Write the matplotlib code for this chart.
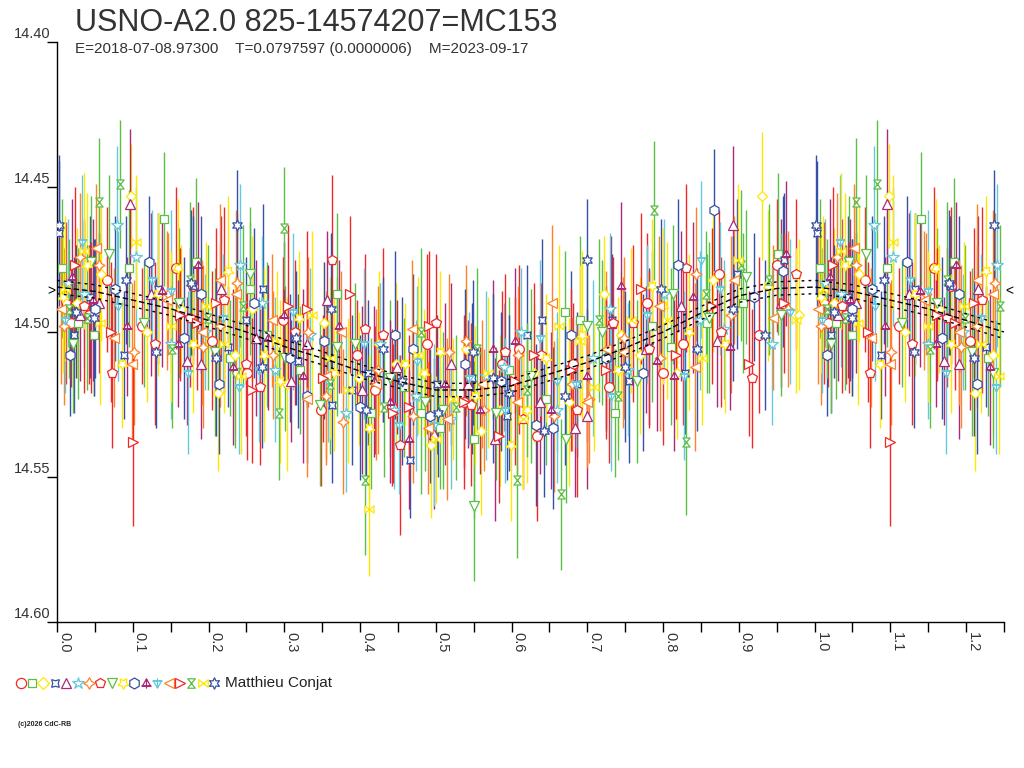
import matplotlib
matplotlib.use("Agg")
import matplotlib.pyplot as plt
import numpy as np
from matplotlib.path import Path

TITLE = "USNO-A2.0 825-14574207=MC153"
SUBTITLE = "E=2018-07-08.97300    T=0.0797597 (0.0000006)    M=2023-09-17"
OBSERVER = "Matthieu Conjat"
FOOTER = "(c)2026 CdC-RB"

# magnitudes are stored as offsets from BASE_MAG in millimag, phases in 1/1000
BASE_MAG = 14.50
MEAN_MAG = 14.486
Y_TICKS = [14.40, 14.45, 14.50, 14.55, 14.60]
X_MAJOR = [0.0, 0.1, 0.2, 0.3, 0.4, 0.5, 0.6, 0.7, 0.8, 0.9, 1.0, 1.1, 1.2]

PHASE = [
    [18, 66, 112, 157, 205, 251, 298, 349, 396, 442, 489, 537, 588, 633, 681, 728, 779, 826, 874, 927, 42, 180, 420, 610, 800, 950],
    [7, 49, 95, 141, 184, 229, 277, 321, 369, 414, 458, 506, 551, 597, 645, 690, 737, 785, 858, 952, 28, 255, 480, 670, 810, 905],
    [26, 98, 119, 164, 212, 258, 303, 352, 399, 447, 494, 540, 585, 629, 676, 722, 770, 818, 866, 931, 58, 235, 425, 560, 745, 980],
    [3, 44, 88, 133, 179, 226, 272, 318, 363, 410, 466, 502, 548, 594, 640, 686, 733, 781, 829, 898, 22, 250, 390, 620, 755, 960],
    [31, 96, 124, 171, 216, 263, 309, 356, 402, 449, 497, 543, 578, 637, 684, 731, 777, 823, 871, 892, 55, 190, 330, 520, 700, 955],
    [14, 79, 104, 150, 196, 241, 288, 334, 381, 427, 474, 520, 566, 612, 660, 707, 754, 801, 849, 944, 35, 270, 445, 590, 730, 880],
    [9, 55, 101, 147, 193, 238, 285, 331, 377, 424, 470, 517, 563, 609, 656, 702, 748, 796, 844, 890, 30, 215, 355, 540, 680, 965],
    [36, 73, 129, 175, 221, 268, 314, 363, 407, 453, 500, 546, 592, 639, 687, 734, 781, 830, 877, 917, 12, 250, 430, 615, 760, 975],
    [21, 68, 115, 161, 208, 255, 301, 347, 394, 440, 486, 551, 579, 626, 672, 719, 766, 813, 861, 909, 45, 235, 370, 510, 700, 955],
    [40, 86, 133, 180, 226, 273, 319, 366, 412, 459, 505, 552, 599, 646, 693, 740, 786, 834, 882, 938, 8, 160, 295, 485, 620, 800],
    [17, 76, 122, 168, 214, 260, 307, 353, 400, 446, 493, 539, 586, 632, 679, 725, 773, 820, 867, 958, 50, 190, 330, 470, 655, 920],
    [47, 93, 139, 186, 232, 279, 325, 372, 418, 465, 512, 558, 605, 652, 699, 745, 792, 840, 888, 962, 20, 160, 300, 440, 575, 815],
    [33, 80, 126, 173, 219, 266, 312, 358, 405, 451, 498, 544, 591, 638, 685, 731, 779, 827, 875, 968, 10, 150, 240, 475, 660, 850],
    [5, 52, 99, 145, 191, 236, 284, 330, 375, 421, 468, 515, 561, 607, 654, 700, 747, 794, 842, 893, 75, 215, 355, 490, 725, 945],
    [24, 71, 100, 162, 210, 257, 305, 351, 387, 444, 491, 537, 583, 630, 678, 724, 771, 817, 864, 913, 45, 185, 330, 465, 605, 960],
    [16, 55, 83, 152, 199, 245, 293, 300, 406, 431, 480, 527, 607, 621, 665, 716, 788, 830, 856, 903, 40, 175, 360, 555, 740, 940],
    [11, 57, 104, 150, 197, 243, 291, 337, 384, 412, 476, 523, 569, 615, 662, 709, 757, 805, 852, 899, 35, 220, 360, 500, 690, 975],
    [2, 49, 91, 131, 177, 237, 270, 316, 362, 408, 455, 503, 549, 596, 643, 700, 750, 797, 845, 892, 25, 210, 430, 575, 670, 935],
]

DMAG = [
    [-3, -18, -2, -22, 3, 14, -4, 27, 8, 26, 4, 24, 11, 36, 11, 19, -10, 4, -20, 1, -6, -16, 20, 6, 14, -23],
    [-22, 1, -22, -39, -24, 9, 1, 13, -13, 28, 19, 33, 37, 13, 23, -4, 28, -2, -3, -27, -3, -15, 28, -7, 5, -10],
    [-10, -47, 0, -8, 21, -8, 18, -3, 16, 11, 39, 6, 27, 14, 24, -13, 8, 14, -18, -47, -20, 8, 4, 34, 1, -6],
    [-34, -12, 8, -15, -16, 5, -15, 10, 25, 14, 44, 18, 16, 29, -4, 18, -4, 5, 14, -20, 1, -4, 20, 1, 17, -25],
    [-6, -44, -13, 10, -15, 2, 17, -11, 20, 12, 35, 18, 37, 24, 33, -3, 6, -9, 3, -37, -10, 11, 4, 11, 29, -10],
    [-17, -37, -26, 4, 0, -23, 13, 1, 28, 4, 22, 30, 15, 0, 27, 9, 13, -13, -4, 4, -13, -10, 27, 12, -8, -1],
    [-2, -23, 7, -13, 5, -17, 8, 0, 31, 13, 29, 7, 27, 8, 29, 23, 2, 9, -20, -6, -26, -2, 22, 3, 18, -8],
    [-9, 14, 4, -5, -11, 19, 0, -25, -1, 39, -3, 25, 7, 8, 27, -3, 6, -22, 0, 16, -10, 11, 1, 30, -3, -20],
    [4, -27, -3, -10, 7, -20, 9, 25, 4, 16, 24, 60, 28, 15, 37, 0, 17, -13, -5, -19, -24, 14, 5, 27, -2, -6],
    [-23, 11, -13, 4, -21, 8, -5, 14, 33, 11, 7, 22, 39, 9, 1, 13, -16, 0, 4, -16, -12, -22, 17, 14, 27, -9],
    [8, -15, -24, 2, 18, -10, 9, 3, 26, 1, 29, 11, 17, 32, 1, 9, 14, -23, -42, -21, -8, -13, 22, 6, 33, -12],
    [-11, -2, -14, -23, 12, 2, 15, -2, 17, 37, 18, 27, 3, 27, 15, -16, 10, -12, 5, -27, -19, 4, -6, 24, 6, 15],
    [-31, -9, -18, 14, -5, 13, -7, 17, 4, 32, 32, 16, 27, 2, 18, 22, -6, 15, -15, -7, -4, -14, 19, 10, 17, -25],
    [-8, -29, 11, -11, 0, -13, -4, 23, 0, 18, -1, 30, 18, 24, -10, 24, 7, -9, 12, -18, 2, -18, 15, 33, 6, -5],
    [-23, 0, 38, -6, -10, 20, -9, 16, -13, 28, -2, 24, 36, 8, 13, 13, -15, 8, -9, 11, -5, -3, -8, 26, 17, -10],
    [-8, -45, -51, 6, -5, -9, 28, -36, 51, 26, 0, 26, 51, 20, 56, -4, -42, 38, -13, -23, -5, -18, 18, 6, 22, -18],
    [-15, -3, -31, -2, -9, 15, 3, -6, 20, 61, 8, 23, 14, 30, -2, 19, -4, -4, 9, -25, -28, 4, 9, 37, 3, -4],
    [-37, -5, -18, 7, -17, -37, 12, 2, -8, 27, 17, 28, 7, 21, 34, -25, 12, -15, 6, -8, -7, 9, 6, 16, 22, 1],
]

ERR = [
    [22, 25, 20, 28, 24, 30, 22, 26, 19, 27, 31, 23, 25, 29, 21, 26, 24, 28, 22, 27, 24, 27, 22, 29, 25, 23],
    [24, 21, 27, 23, 29, 20, 25, 22, 28, 26, 24, 21, 27, 25, 23, 29, 22, 26, 24, 28, 26, 23, 28, 21, 27, 24],
    [26, 18, 24, 22, 27, 25, 30, 21, 23, 28, 25, 22, 26, 24, 29, 20, 27, 23, 25, 22, 23, 27, 25, 29, 22, 26],
    [25, 28, 22, 26, 24, 21, 29, 23, 27, 25, 20, 24, 26, 22, 28, 25, 23, 27, 21, 26, 27, 22, 26, 24, 28, 23],
    [23, 26, 28, 22, 25, 27, 21, 24, 29, 23, 26, 22, 28, 25, 24, 30, 22, 26, 23, 27, 24, 26, 22, 28, 25, 29],
    [22, 27, 24, 26, 20, 28, 25, 23, 27, 21, 26, 24, 29, 22, 25, 27, 23, 26, 24, 28, 25, 23, 27, 22, 26, 24],
    [27, 23, 25, 21, 28, 24, 22, 26, 25, 29, 23, 27, 21, 24, 26, 22, 28, 25, 23, 27, 22, 28, 24, 26, 23, 27],
    [30, 26, 28, 24, 32, 27, 25, 29, 26, 31, 24, 28, 27, 25, 30, 23, 27, 29, 26, 24, 28, 25, 30, 24, 27, 26],
    [24, 27, 22, 26, 29, 23, 25, 28, 21, 27, 24, 26, 23, 30, 22, 25, 28, 24, 26, 23, 23, 26, 24, 27, 25, 28],
    [25, 22, 28, 24, 26, 30, 23, 27, 25, 21, 28, 24, 26, 22, 29, 25, 23, 27, 24, 26, 26, 24, 28, 22, 25, 27],
    [21, 25, 23, 28, 24, 26, 22, 27, 25, 29, 23, 26, 24, 28, 22, 25, 27, 23, 21, 26, 24, 27, 23, 26, 28, 22],
    [28, 24, 26, 22, 27, 25, 30, 23, 26, 24, 28, 22, 25, 27, 23, 29, 24, 26, 22, 25, 27, 22, 25, 28, 24, 26],
    [23, 26, 24, 28, 22, 25, 27, 21, 26, 24, 28, 23, 25, 27, 22, 26, 24, 29, 23, 25, 25, 28, 23, 26, 24, 27],
    [26, 22, 28, 24, 25, 29, 23, 27, 21, 26, 24, 28, 22, 25, 27, 23, 26, 24, 29, 22, 24, 26, 29, 23, 27, 25],
    [27, 24, 29, 23, 26, 25, 28, 22, 27, 24, 26, 30, 23, 25, 28, 24, 26, 22, 27, 25, 26, 23, 27, 25, 29, 24],
    [24, 22, 22, 27, 25, 28, 23, 21, 26, 24, 29, 25, 27, 23, 26, 28, 24, 25, 22, 26, 25, 27, 24, 28, 22, 26],
    [25, 28, 23, 26, 22, 27, 24, 29, 25, 23, 27, 21, 26, 24, 28, 22, 25, 27, 23, 26, 27, 24, 28, 22, 26, 25],
    [24, 27, 22, 26, 25, 19, 28, 23, 26, 24, 29, 22, 25, 27, 23, 21, 26, 24, 28, 25, 23, 27, 25, 29, 24, 26],
]

# fitted light curve, read every 0.05 in phase (millimag from BASE_MAG)
FIT_PHASE = [0.00, 0.05, 0.10, 0.15, 0.20, 0.25, 0.30, 0.35, 0.40, 0.45, 0.50,
             0.55, 0.60, 0.65, 0.70, 0.75, 0.80, 0.85, 0.90, 0.95, 1.00]
FIT_DMAG = [-15.5, -14, -11, -8, -4, 0, 5, 9, 13.5, 17, 20,
            20, 18.5, 14.5, 10.5, 5.5, 0, -6.5, -12.5, -15, -15.5]
FIT_SIGMA = 2.3

COLORS = ["#F02828", "#5CBF45", "#FFE800", "#3550A5", "#AA2A7A", "#66C8DC", "#FF8228"]

# extra symbols
TRI_BAR = Path([(-0.8, -0.5), (0.8, -0.5), (0, 0.9), (-0.8, -0.5),
                (-1, -0.5), (1, -0.5), (0, 0.9), (0, -1)],
               [Path.MOVETO, Path.LINETO, Path.LINETO, Path.CLOSEPOLY,
                Path.MOVETO, Path.LINETO, Path.MOVETO, Path.LINETO])
TRI_DOWN_BAR = Path([(-0.8, 0.5), (0.8, 0.5), (0, -0.9), (-0.8, 0.5),
                     (-1, 0.5), (1, 0.5), (0, -0.9), (0, 1)],
                    [Path.MOVETO, Path.LINETO, Path.LINETO, Path.CLOSEPOLY,
                     Path.MOVETO, Path.LINETO, Path.MOVETO, Path.LINETO])
HOURGLASS = Path([(-0.8, 1), (0.8, 1), (-0.8, -1), (0.8, -1), (-0.8, 1)],
                 [Path.MOVETO, Path.LINETO, Path.LINETO, Path.LINETO, Path.CLOSEPOLY])
BOWTIE = Path([(-1, 0.8), (-1, -0.8), (1, 0.8), (1, -0.8), (-1, 0.8)],
              [Path.MOVETO, Path.LINETO, Path.LINETO, Path.LINETO, Path.CLOSEPOLY])

MARKERS = ["o", "s", "D", (4, 1, 45), "^", "*", (4, 1, 0), "p", "v", (5, 1, 180),
           "h", TRI_BAR, TRI_DOWN_BAR, "<", ">", HOURGLASS, BOWTIE, (6, 1, 0)]
SIZES = [7, 6, 5.5, 7.5, 7, 8.5, 8, 7.5, 7, 8, 7.5, 7, 7, 7, 7, 6.5, 6.5, 8]

plt.rcParams["font.family"] = ["Liberation Sans", "DejaVu Sans"]

fig = plt.figure(figsize=(10.24, 7.68), dpi=100)
ax = fig.add_axes([57 / 1024, 146 / 768, 947 / 1024, 580 / 768])

for g in range(len(PHASE)):
    ph = np.array(PHASE[g]) / 1000.0
    mag = BASE_MAG + np.array(DMAG[g]) / 1000.0
    err = np.array(ERR[g]) / 1000.0
    wrap = ph < 0.25
    ph = np.concatenate([ph, ph[wrap] + 1.0])
    mag = np.concatenate([mag, mag[wrap]])
    err = np.concatenate([err, err[wrap]])
    col = COLORS[g % len(COLORS)]
    ax.errorbar(ph, mag, yerr=err, fmt="none", ecolor=col, elinewidth=1.0, capsize=0, zorder=2)
    ax.plot(ph, mag, ls="none", marker=MARKERS[g], ms=SIZES[g], mfc="white",
            mec=col, mew=0.9, zorder=3)

fp = np.array(FIT_PHASE)
fm = BASE_MAG + np.array(FIT_DMAG) / 1000.0
more = (fp > 0) & (fp <= 0.25)
fp = np.concatenate([fp, fp[more] + 1.0])
fm = np.concatenate([fm, fm[more]])
ax.plot(fp, fm, color="black", lw=1.0, ls=(0, (4, 2)), zorder=5)
ax.plot(fp, fm - FIT_SIGMA / 1000.0, color="black", lw=1.0, ls=(0, (2, 3)), zorder=5)
ax.plot(fp, fm + FIT_SIGMA / 1000.0, color="black", lw=1.0, ls=(0, (2, 3)), zorder=5)

ax.set_xlim(0, 1.25)
ax.set_ylim(14.60, 14.40)
for side in ["top", "right"]:
    ax.spines[side].set_visible(False)
for side in ["left", "bottom"]:
    ax.spines[side].set_linewidth(1.0)

ax.set_xticks(np.arange(0, 1.26, 0.05), minor=True)
ax.set_xticks(X_MAJOR)
ax.set_xticklabels([f"{v:.1f}" for v in X_MAJOR], rotation=-90, ha="left", va="top",
                   fontsize=10.5, color="#333333")
ax.tick_params(axis="x", which="both", direction="out", length=7, width=1.0, pad=0.5)
ax.set_yticks(Y_TICKS)
ax.set_yticklabels([])
ax.tick_params(axis="y", direction="out", length=7, width=1.0)
for v in Y_TICKS:
    ax.annotate(f"{v:.2f}", xy=(0, v), xycoords=("axes fraction", "data"),
                xytext=(-5, 0.5), textcoords="offset points", ha="right", va="bottom",
                fontsize=10.5, color="#333333", annotation_clip=False)

ax.annotate(">", xy=(0, MEAN_MAG), xycoords=("axes fraction", "data"), xytext=(-1, 0),
            textcoords="offset points", ha="right", va="center", fontsize=10, annotation_clip=False)
ax.annotate("<", xy=(1, MEAN_MAG), xycoords=("axes fraction", "data"), xytext=(1, 0),
            textcoords="offset points", ha="left", va="center", fontsize=10, annotation_clip=False)

fig.text(75 / 1024, 1 - 8 / 768, TITLE, fontsize=22, color="#333333", ha="left", va="top")
fig.text(75 / 1024, 1 - 42 / 768, SUBTITLE, fontsize=11, color="#333333", ha="left", va="top")

# legend row: one symbol per series, then observer name
lx0 = 20.7 / 1024
ldx = 11.37 / 1024
ly = (768 - 683) / 768
for g in range(len(MARKERS)):
    fig.lines.append(plt.Line2D([lx0 + g * ldx], [ly], transform=fig.transFigure, ls="none",
                                marker=MARKERS[g], ms=SIZES[g] * 1.05, mfc="white",
                                mec=COLORS[g % len(COLORS)], mew=0.9))
fig.text(225 / 1024, ly, OBSERVER, fontsize=11, color="#222222", ha="left", va="center")
fig.text(18 / 1024, (768 - 725) / 768, FOOTER, fontsize=5, color="#222222", ha="left",
         va="center", fontweight="bold")

fig.savefig("out.png", dpi=100)
